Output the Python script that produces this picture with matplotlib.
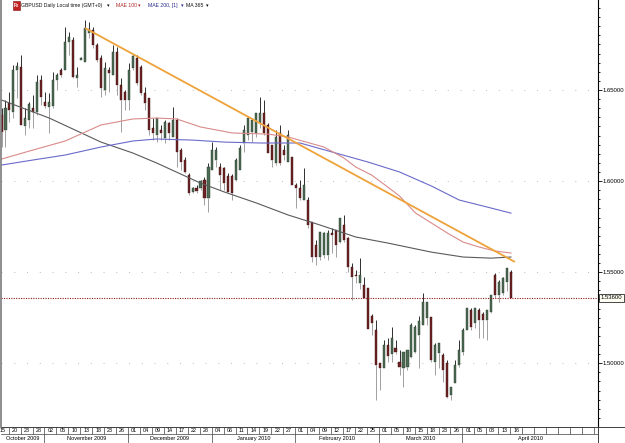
import matplotlib
matplotlib.use("Agg")
import matplotlib.pyplot as plt
import matplotlib.transforms as mtransforms
from matplotlib.patches import Rectangle
from matplotlib.lines import Line2D
import numpy as np

plt.rcParams['font.family'] = ['Liberation Sans', 'DejaVu Sans']

# ---------------- data (GBPUSD daily, 15 Oct 2009 - 16 Apr 2010) ----------------
opens = [1.6363, 1.6280, 1.6428, 1.6379, 1.6610, 1.6626, 1.6302, 1.6335, 1.6401, 1.6379,
         1.6555, 1.6434, 1.6406, 1.6412, 1.6555, 1.6610, 1.6610, 1.6764, 1.6774, 1.6566,
         1.6665, 1.6654, 1.6813, 1.6829, 1.6747, 1.6676, 1.6500, 1.6610, 1.6582, 1.6709,
         1.6527, 1.6489, 1.6445, 1.6621, 1.6676, 1.6626, 1.6483, 1.6456, 1.6291, 1.6253,
         1.6280, 1.6236, 1.6319, 1.6242, 1.6335, 1.6171, 1.6116, 1.6033, 1.5940, 1.5962,
         1.5962, 1.6006, 1.5907, 1.6061, 1.6116, 1.6077, 1.6072, 1.6028, 1.6028, 1.6006,
         1.6061, 1.6209, 1.6253, 1.6269, 1.6264, 1.6319, 1.6374, 1.6308, 1.6198, 1.6099,
         1.6264, 1.6171, 1.6105, 1.6132, 1.5978, 1.5962, 1.5896, 1.5896, 1.5775, 1.5649,
         1.5583, 1.5594, 1.5594, 1.5715, 1.5731, 1.5665, 1.5759, 1.5687, 1.5528, 1.5484,
         1.5440, 1.5429, 1.5413, 1.5259, 1.5182, 1.5001, 1.4974, 1.5100, 1.5051, 1.5084,
         1.5007, 1.4974, 1.4979, 1.5034, 1.5062, 1.5155, 1.5210, 1.5248, 1.5254, 1.5007,
         1.5056, 1.5045, 1.5001, 1.4826, 1.4891, 1.4990, 1.5062, 1.5182, 1.5292, 1.5221,
         1.5292, 1.5270, 1.5237, 1.5281, 1.5484, 1.5374, 1.5385, 1.5446, 1.5501]
highs = [1.6401, 1.6445, 1.6489, 1.6637, 1.6654, 1.6692, 1.6401, 1.6434, 1.6472, 1.6582,
         1.6582, 1.6489, 1.6483, 1.6599, 1.6593, 1.6621, 1.6846, 1.6818, 1.6791, 1.6626,
         1.6681, 1.6884, 1.6873, 1.6846, 1.6758, 1.6692, 1.6654, 1.6626, 1.6747, 1.6736,
         1.6566, 1.6500, 1.6648, 1.6692, 1.6692, 1.6637, 1.6516, 1.6456, 1.6346, 1.6346,
         1.6308, 1.6335, 1.6324, 1.6406, 1.6346, 1.6182, 1.6132, 1.6044, 1.5967, 1.5979,
         1.6006, 1.6022, 1.6099, 1.6214, 1.6187, 1.6099, 1.6077, 1.6044, 1.6039, 1.6127,
         1.6198, 1.6308, 1.6352, 1.6346, 1.6374, 1.6461, 1.6445, 1.6319, 1.6198, 1.6280,
         1.6308, 1.6198, 1.6280, 1.6132, 1.5989, 1.6006, 1.6072, 1.5913, 1.5775, 1.5676,
         1.5720, 1.5720, 1.5731, 1.5742, 1.5731, 1.5797, 1.5814, 1.5693, 1.5550, 1.5512,
         1.5578, 1.5473, 1.5413, 1.5270, 1.5237, 1.5001, 1.5127, 1.5139, 1.5199, 1.5127,
         1.5073, 1.5062, 1.5073, 1.5221, 1.5210, 1.5259, 1.5385, 1.5336, 1.5254, 1.5111,
         1.5111, 1.5056, 1.5018, 1.4869, 1.5018, 1.5127, 1.5193, 1.5303, 1.5303, 1.5303,
         1.5303, 1.5281, 1.5292, 1.5374, 1.5495, 1.5457, 1.5473, 1.5523, 1.5512]
lows = [1.6187, 1.6187, 1.6324, 1.6346, 1.6456, 1.6308, 1.6253, 1.6291, 1.6291, 1.6363,
        1.6417, 1.6401, 1.6264, 1.6401, 1.6500, 1.6571, 1.6610, 1.6692, 1.6566, 1.6516,
        1.6665, 1.6654, 1.6785, 1.6731, 1.6654, 1.6461, 1.6472, 1.6489, 1.6582, 1.6472,
        1.6269, 1.6390, 1.6390, 1.6610, 1.6527, 1.6472, 1.6390, 1.6253, 1.6225, 1.6214,
        1.6225, 1.6209, 1.6225, 1.6242, 1.6077, 1.6061, 1.6044, 1.5924, 1.5935, 1.5935,
        1.5951, 1.5869, 1.5830, 1.6061, 1.6077, 1.5951, 1.5951, 1.5940, 1.5896, 1.6000,
        1.6061, 1.6160, 1.6225, 1.6214, 1.6242, 1.6291, 1.6253, 1.6154, 1.6077, 1.6088,
        1.6088, 1.6116, 1.6105, 1.5978, 1.5852, 1.5896, 1.5896, 1.5742, 1.5556, 1.5539,
        1.5567, 1.5578, 1.5567, 1.5605, 1.5583, 1.5660, 1.5665, 1.5501, 1.5347, 1.5440,
        1.5407, 1.5358, 1.5188, 1.5155, 1.4798, 1.4853, 1.4974, 1.5007, 1.5007, 1.5051,
        1.4935, 1.4869, 1.4963, 1.5029, 1.5056, 1.4974, 1.5210, 1.5210, 1.5007, 1.4935,
        1.4974, 1.4897, 1.4809, 1.4798, 1.4891, 1.4979, 1.5045, 1.5182, 1.5182, 1.5193,
        1.5139, 1.5139, 1.5127, 1.5276, 1.5358, 1.5336, 1.5374, 1.5396, 1.5358]
closes = [1.6269, 1.6401, 1.6390, 1.6610, 1.6632, 1.6308, 1.6346, 1.6423, 1.6379, 1.6544,
          1.6461, 1.6412, 1.6434, 1.6555, 1.6582, 1.6582, 1.6764, 1.6791, 1.6571, 1.6582,
          1.6676, 1.6840, 1.6835, 1.6747, 1.6665, 1.6511, 1.6621, 1.6593, 1.6709, 1.6527,
          1.6445, 1.6445, 1.6610, 1.6687, 1.6538, 1.6483, 1.6428, 1.6280, 1.6264, 1.6346,
          1.6264, 1.6324, 1.6264, 1.6335, 1.6160, 1.6105, 1.6050, 1.5935, 1.5962, 1.5946,
          1.6000, 1.5907, 1.6077, 1.6171, 1.6171, 1.6033, 1.5989, 1.5940, 1.5935, 1.6116,
          1.6182, 1.6280, 1.6346, 1.6335, 1.6374, 1.6374, 1.6264, 1.6154, 1.6116, 1.6242,
          1.6099, 1.6143, 1.6253, 1.5978, 1.5962, 1.5907, 1.5978, 1.5759, 1.5583, 1.5583,
          1.5720, 1.5715, 1.5715, 1.5704, 1.5649, 1.5797, 1.5676, 1.5528, 1.5473, 1.5479,
          1.5484, 1.5358, 1.5188, 1.5221, 1.4990, 1.4974, 1.5100, 1.5040, 1.5139, 1.5062,
          1.4979, 1.5062, 1.5073, 1.5210, 1.5199, 1.5232, 1.5336, 1.5336, 1.5018, 1.5100,
          1.5111, 1.4963, 1.4814, 1.4869, 1.4990, 1.5073, 1.5182, 1.5303, 1.5199, 1.5303,
          1.5237, 1.5237, 1.5292, 1.5374, 1.5374, 1.5446, 1.5468, 1.5523, 1.5360]

# moving averages (read at sample days)
mae100_idx = [0, 8, 16, 25, 33, 39, 44, 50, 58, 67, 72, 81, 86, 89, 93, 97, 100, 104, 108, 112, 116, 120, 124, 128]
mae100_val = [1.6121, 1.6171, 1.6220, 1.6308, 1.6341, 1.6346, 1.6341, 1.6297, 1.6264, 1.6258, 1.6242, 1.6187,
              1.6127, 1.6077, 1.6033, 1.5968, 1.5918, 1.5825, 1.5770, 1.5715, 1.5665, 1.5638, 1.5616, 1.5605]
mae200_idx = [0, 8, 16, 25, 33, 39, 48, 56, 65, 75, 83, 92, 100, 108, 115, 123, 128]
mae200_val = [1.6088, 1.6116, 1.6143, 1.6187, 1.6220, 1.6231, 1.6225, 1.6214, 1.6209, 1.6209, 1.6160, 1.6105,
              1.6050, 1.5973, 1.5896, 1.5852, 1.5824]
ma365_idx = [0, 12, 25, 33, 39, 50, 56, 64, 72, 80, 89, 97, 108, 116, 123, 128]
ma365_val = [1.6445, 1.6346, 1.6214, 1.6154, 1.6099, 1.5989, 1.5940, 1.5880, 1.5814, 1.5759, 1.5693, 1.5660,
             1.5610, 1.5583, 1.5577, 1.5583]

trend_idx = [21, 129]
trend_val = [1.6840, 1.5556]

current_price = 1.5360
price_ticks = [1.50, 1.55, 1.60, 1.65]

day_labels = ["15", "20", "23", "28",
              "02", "05", "10", "13", "18", "23", "26",
              "01", "04", "09", "14", "17", "22", "28",
              "04", "06", "11", "14", "19", "22", "27",
              "01", "04", "09", "12", "17", "22", "25",
              "01", "05", "10", "15", "18", "23", "26",
              "01", "05", "08", "13", "16"]
month_labels = ["October 2009", "November 2009", "December 2009", "January 2010",
                "February 2010", "March 2010", "April 2010"]
month_start_tick = [0, 4, 11, 18, 25, 32, 39]

# ---------------- figure ----------------
W, H = 625, 443
fig = plt.figure(figsize=(W / 100, H / 100), dpi=100)
fig.patch.set_facecolor("white")

X0, X1 = 1, 598          # plot area pixel x
YB = 427                 # plot area bottom pixel y
ax = fig.add_axes([X0 / W, (H - YB) / H, (X1 - X0) / W, YB / H])
ax.set_facecolor("white")

n = len(closes)
idx = np.arange(n)
xlo, xhi = -0.126, 149.87
ax.set_xlim(xlo, xhi)
ax.set_ylim(1.4650, 1.6994)

# grid
for lv in price_ticks:
    ax.axhline(lv, color="#b5b5b5", lw=0.6, ls=(0, (1.3, 14)), zorder=0)

# candles
o = np.array(opens); h = np.array(highs); l = np.array(lows); c = np.array(closes)
top = np.maximum(o, c); bot = np.minimum(o, c)
ax.vlines(idx, top, h, color="#2e2e2e", lw=0.7, zorder=2)
ax.vlines(idx, l, bot, color="#a0a0a0", lw=0.7, zorder=2)
up = c >= o
body_h = np.maximum(top - bot, 0.0004)
ax.bar(idx[up], body_h[up], bottom=bot[up], width=0.52, color="#4d6b52",
       edgecolor="#2a3a2c", linewidth=0.3, zorder=3)
ax.bar(idx[~up], body_h[~up], bottom=bot[~up], width=0.52, color="#6e2224",
       edgecolor="#3a1212", linewidth=0.3, zorder=3)

# moving averages
ax.plot(ma365_idx, ma365_val, color="#5a5a5a", lw=0.8, zorder=4)
ax.plot(mae200_idx, mae200_val, color="#6a6acb", lw=0.8, zorder=4)
ax.plot(mae100_idx, mae100_val, color="#d98a8a", lw=0.8, zorder=4)
# trend line
ax.plot(trend_idx, trend_val, color="#eea23a", lw=1.3, zorder=5, solid_capstyle="butt")

# current price line
ax.axhline(current_price, color="#8b1a1a", lw=0.8, ls=(0, (1, 1.2)), zorder=4)

# spines / ticks
for s in ["top", "left", "bottom"]:
    ax.spines[s].set_visible(False)
ax.spines["right"].set_color("black")
ax.spines["right"].set_linewidth(0.8)
ax.set_xticks([])
ax.yaxis.tick_right()
ax.set_yticks(price_ticks)
ax.set_yticklabels(["%.5f" % v for v in price_ticks])
ax.set_yticks(np.arange(1.470, 1.700, 0.005), minor=True)
ax.tick_params(axis="y", which="major", direction="out", length=2.8, width=0.6,
               labelsize=4.3, pad=0.8, colors="black")
ax.tick_params(axis="y", which="minor", direction="out", length=1.6, width=0.6)

trans = mtransforms.blended_transform_factory(ax.transAxes, ax.transData)
ax.text(1.004, current_price, "%.5f" % current_price, transform=trans, ha="left", va="center",
        fontsize=4.3, zorder=10,
        bbox=dict(boxstyle="square,pad=0.25", fc="#fffff4", ec="black", lw=0.5))

# ---------------- date strip ----------------
sax = fig.add_axes([X0 / W, 0, (X1 - X0) / W, (H - YB) / H])
sax.set_xlim(xlo, xhi)
sax.set_ylim(0, H - YB)
sax.axis("off")
split = 9
sax.axhline(H - YB - 0.3, color="#404040", lw=0.7)
sax.axhline(split, color="#606060", lw=0.6)
sax.axhline(0.3, color="#808080", lw=0.5)
seps = [3 * k - 1.2 for k in range(0, 51)]
for k, s in enumerate(seps):
    if k == 0:
        continue
    sax.vlines(s, split, H - YB, color="#404040", lw=0.5)
for k, lab in enumerate(day_labels):
    sax.text(3 * k + 0.3, split + 3.6, lab, ha="center", va="center", fontsize=3.9)
bounds = [xlo] + [seps[t] for t in month_start_tick[1:]] + [xhi]
for t in month_start_tick[1:]:
    sax.vlines(seps[t], 0, split, color="#404040", lw=0.5)
for i, lab in enumerate(month_labels):
    sax.text((bounds[i] + bounds[i + 1]) / 2, split / 2, lab, ha="center", va="center", fontsize=4.0)

# frame lines in figure pixels
def fx(x):
    return x / W
def fy(y):
    return 1 - y / H
fig.add_artist(Line2D([fx(0.6), fx(0.6)], [fy(0), fy(YB)], color="#7a7a7a", lw=1.2))
fig.add_artist(Line2D([fx(X1), fx(X1)], [fy(YB), fy(H)], color="#404040", lw=0.7))
fig.add_artist(Line2D([fx(X1), fx(W)], [fy(YB), fy(YB)], color="#404040", lw=0.7))
fig.add_artist(Line2D([fx(W - 0.5), fx(W - 0.5)], [fy(0), fy(H)], color="#909090", lw=0.6))

# ---------------- header ----------------
fig.add_artist(Rectangle((fx(12.5), fy(10)), 7.5 / W, 8.5 / H, facecolor="#c42222",
                         edgecolor="#7a1010", lw=0.4))
fig.text(fx(16.2), fy(5.6), "Fx", color="white", fontsize=3.3, ha="center", va="center",
         fontweight="bold")
hy = fy(5.3)
hfs = 3.7
fig.text(fx(21), hy, "GBPUSD Daily Local time (GMT+0)", fontsize=hfs, va="center", color="#111111")
fig.text(fx(107), hy, "\u25be", fontsize=hfs, va="center", color="#111111")
fig.text(fx(115.5), hy, "MAE 100", fontsize=hfs, va="center", color="#b02a2a")
fig.text(fx(137.5), hy, "\u25be", fontsize=hfs, va="center", color="#b02a2a")
fig.text(fx(147.5), hy, "MAE 200, [1]", fontsize=hfs, va="center", color="#2a2a90")
fig.text(fx(180.5), hy, "\u25be", fontsize=hfs, va="center", color="#2a2a90")
fig.text(fx(186), hy, "MA 365", fontsize=hfs, va="center", color="#111111")
fig.text(fx(206), hy, "\u25be", fontsize=hfs, va="center", color="#111111")

fig.savefig("out.png", dpi=100, facecolor="white")
